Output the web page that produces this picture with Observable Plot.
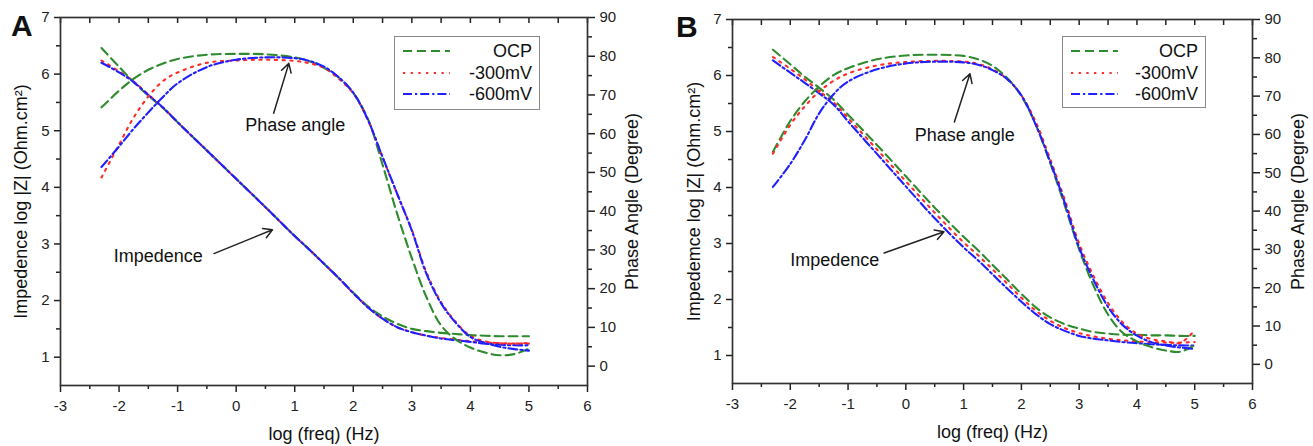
<!DOCTYPE html>
<html><head><meta charset="utf-8">
<script src="https://cdn.jsdelivr.net/npm/d3@7"></script>
<script src="https://cdn.jsdelivr.net/npm/@observablehq/plot@0.6"></script>
<style>
body{margin:0;background:#fff;font-family:"Liberation Sans",Arial,sans-serif;}
#wrap{position:relative;width:1313px;height:446px;overflow:hidden;background:#fff;}
.panel{position:absolute;top:0;}
.letter{position:absolute;font-weight:bold;font-size:30px;line-height:30px;color:#111;}
.legend{position:absolute;border:1px solid #8a8a8a;background:#fff;box-sizing:border-box;}
</style></head><body><div id="wrap"></div>
<script>
// ---- data ----
const logFreq = [-2.3,-2.0,-1.75,-1.5,-1.25,-1.0,-0.5,0,0.5,1.0,1.25,1.5,1.75,2.0,2.25,2.5,2.75,3.0,3.25,3.5,3.75,4.0,4.25,4.5,4.75,5.0];
const seriesNames = ["OCP","-300mV","-600mV"];
const seriesColors = ["#2e8b2e","#ff2a2a","#1f1fff"];
const seriesDash = ["9,5","2.2,5.5","9,3,2.2,3"];

const impA_OCP = [6.46,6.13,5.86,5.62,5.40,5.15,4.65,4.15,3.65,3.14,2.90,2.65,2.40,2.14,1.90,1.72,1.59,1.50,1.46,1.43,1.41,1.39,1.38,1.37,1.37,1.37];
const impA_300 = [6.24,6.05,5.87,5.64,5.41,5.15,4.65,4.15,3.65,3.14,2.90,2.65,2.40,2.13,1.88,1.68,1.53,1.44,1.38,1.34,1.31,1.28,1.26,1.25,1.24,1.24];
const impA_600 = [6.20,6.03,5.86,5.63,5.41,5.15,4.65,4.15,3.65,3.14,2.90,2.65,2.40,2.13,1.88,1.68,1.53,1.44,1.38,1.33,1.30,1.27,1.24,1.22,1.21,1.21];
const phaseA_OCP = [66.8,71.1,74.2,76.5,78.1,79.3,80.4,80.6,80.5,79.7,78.7,77.0,74.5,70.5,63.8,52.0,39.3,27.9,17.8,10.5,6.9,4.8,3.5,2.8,3.1,4.5];
const phaseA_300 = [48.7,57.2,64.2,69.6,73.6,75.8,78.3,78.9,79.1,78.8,78.2,77.0,74.2,70.4,63.5,53.9,44.4,35.2,24.2,16.5,11.4,7.8,6.4,5.9,5.8,6.0];
const phaseA_600 = [51.4,56.7,61.3,65.5,69.5,73.0,77.2,79.1,79.7,79.5,78.8,77.3,74.6,70.6,63.6,54.0,44.5,35.0,23.8,16.2,11.2,7.5,6.0,5.0,4.4,4.0];

const impB_OCP = [6.46,6.20,5.98,5.78,5.57,5.30,4.76,4.20,3.64,3.12,2.88,2.62,2.36,2.10,1.86,1.68,1.56,1.48,1.42,1.39,1.37,1.37,1.36,1.36,1.35,1.35];
const impB_300 = [6.33,6.12,5.93,5.72,5.52,5.24,4.68,4.11,3.55,3.02,2.79,2.54,2.29,2.03,1.80,1.62,1.49,1.40,1.34,1.30,1.27,1.25,1.24,1.23,1.23,1.24];
const impB_600 = [6.27,6.05,5.87,5.68,5.48,5.18,4.60,4.02,3.45,2.93,2.70,2.45,2.20,1.96,1.74,1.56,1.44,1.35,1.30,1.27,1.24,1.22,1.20,1.19,1.18,1.18];
const phaseB_OCP = [55.5,63.5,68.6,72.5,75.5,77.3,79.6,80.6,80.8,80.5,79.6,77.9,74.8,70.0,62.5,52.5,41.5,30.0,20.5,13.0,8.3,6.0,4.5,3.6,3.3,5.0];
const phaseB_300 = [55.0,62.5,67.3,71.2,74.0,75.9,78.0,78.9,79.2,79.0,78.4,77.0,74.5,70.2,63.2,53.5,43.0,31.5,23.0,16.0,11.0,8.0,6.6,6.0,5.6,8.9];
const phaseB_600 = [46.3,52.3,58.5,65.5,70.5,73.8,77.0,78.5,79.0,78.8,78.2,76.8,74.5,70.2,62.5,52.8,42.2,30.5,22.0,15.0,10.3,7.5,5.8,4.9,4.4,4.0];

const xTicks = [-3,-2,-1,0,1,2,3,4,5,6];
const xMinorTicks = [-2.5,-1.5,-0.5,0.5,1.5,2.5,3.5,4.5,5.5];
const impTicks = [1,2,3,4,5,6,7];
const impMinorTicks = [1.5,2.5,3.5,4.5,5.5,6.5];
const phaseTicks = [0,10,20,30,40,50,60,70,80,90];
const phaseMinorTicks = [5,15,25,35,45,55,65,75,85];
const xDomain = [-3,6];
const impDomain = [0.5,7];
const phaseDomain = [-5,90];

const annotLabels = ["Phase angle","Impedence"];
const annotXA = [1.01,-1.33], annotYA = [5.10,2.79];
const annotXB = [1.02,-1.23], annotYB = [4.93,2.71];
const arrowX1A = [0.64,-0.38], arrowY1A = [5.31,2.83], arrowX2A = [0.90,0.62], arrowY2A = [6.19,3.25];
const arrowX1B = [0.84,-0.375], arrowY1B = [5.17,2.83], arrowX2B = [1.11,0.66], arrowY2B = [6.03,3.21];

const xLabel = "log (freq) (Hz)";
const yLabelA = "Impedence log |Z| (Ohm.cm²)";
const yLabelB = "Impedemce log |Z| (Ohm.cm²)";
const y2Label = "Phase Angle (Degree)";

// ---- helpers ----
const k = (impDomain[1]-impDomain[0])/(phaseDomain[1]-phaseDomain[0]);
const phaseToY = p => impDomain[0] + (p - phaseDomain[0]) * k;
const yToPhase = y => phaseDomain[0] + (y - impDomain[0]) / k;
const FONT = "Liberation Sans, Arial, sans-serif";
const noText = () => "";
const LW = 2.1;

function panel(cfg) {
  const marks = [];
  cfg.imp.forEach((vals, i) => {
    const rows = logFreq.map((x, j) => ({x, y: vals[j]}));
    marks.push(Plot.line(rows, {x: "x", y: "y", stroke: seriesColors[i], strokeWidth: LW, strokeDasharray: seriesDash[i], curve: "catmull-rom"}));
  });
  cfg.phase.forEach((vals, i) => {
    const rows = logFreq.map((x, j) => ({x, y: phaseToY(vals[j])}));
    marks.push(Plot.line(rows, {x: "x", y: "y", stroke: seriesColors[i], strokeWidth: LW, strokeDasharray: seriesDash[i], curve: "catmull-rom"}));
  });
  const ann = annotLabels.map((t, i) => ({t, x: cfg.ax[i], y: cfg.ay[i]}));
  const arr = cfg.x1.map((v, i) => ({x1: v, y1: cfg.y1[i], x2: cfg.x2[i], y2: cfg.y2[i]}));
  return Plot.plot({
    width: cfg.width, height: 446,
    marginLeft: cfg.ml, marginRight: cfg.mr, marginTop: cfg.mt, marginBottom: cfg.mb,
    x: {domain: xDomain},
    y: {domain: impDomain},
    style: {fontFamily: FONT, fontSize: "15px", color: "#222", background: "transparent", overflow: "visible"},
    marks: [
      Plot.axisX(xTicks, {anchor: "bottom", tickSize: 7, tickPadding: 8, tickFormat: d => String(d), label: null, strokeWidth: 1.5, fontSize: 15}),
      Plot.axisX(xMinorTicks, {anchor: "bottom", tickSize: 4, tickFormat: noText, label: null, strokeWidth: 1.5}),
      Plot.axisX(xTicks.concat(xMinorTicks), {anchor: "top", tickSize: -5, tickFormat: noText, label: null, strokeWidth: 1.5}),
      Plot.axisY(impTicks, {anchor: "left", tickSize: 6, tickPadding: 5, tickFormat: d => String(d), label: null, strokeWidth: 1.5, fontSize: 15}),
      Plot.axisY(impMinorTicks, {anchor: "left", tickSize: 4, tickFormat: noText, label: null, strokeWidth: 1.5}),
      Plot.axisY(phaseTicks.map(phaseToY), {anchor: "right", tickSize: 7, tickPadding: 5, tickFormat: y => String(Math.round(yToPhase(y))), label: null, strokeWidth: 1.5, fontSize: 15}),
      Plot.axisY(phaseMinorTicks.map(phaseToY), {anchor: "right", tickSize: 4, tickFormat: noText, label: null, strokeWidth: 1.5}),
      Plot.frame({stroke: "#333", strokeWidth: 1.7}),
      ...marks,
      Plot.text(ann, {x: "x", y: "y", text: "t", fontSize: 18, fill: "#111"}),
      Plot.arrow(arr, {x1: "x1", y1: "y1", x2: "x2", y2: "y2", stroke: "#222", strokeWidth: 1.5, headLength: 10}),
      Plot.text([xLabel], {frameAnchor: "bottom", dy: 42, lineAnchor: "top", textAnchor: "middle", fontSize: 18, fill: "#111"}),
      Plot.text([cfg.yLabel], {frameAnchor: "left", dx: cfg.ylOff, rotate: -90, textAnchor: "middle", lineAnchor: "middle", fontSize: 18, fill: "#111"}),
      Plot.text([y2Label], {frameAnchor: "right", dx: cfg.y2Off, rotate: -90, textAnchor: "middle", lineAnchor: "middle", fontSize: 18, fill: "#111"})
    ]
  });
}

function legend(left, top, w, h) {
  const d = document.createElement("div");
  d.className = "legend";
  Object.assign(d.style, {left: left + "px", top: top + "px", width: w + "px", height: h + "px"});
  const rowsY = [15, 37, 58];
  let s = `<svg width="${w}" height="${h}" style="position:absolute;left:-1px;top:-1px">`;
  seriesNames.forEach((n, i) => {
    s += `<line x1="9" x2="56" y1="${rowsY[i]}" y2="${rowsY[i]}" stroke="${seriesColors[i]}" stroke-width="${LW}" stroke-dasharray="${seriesDash[i]}"/>`;
    s += `<text x="${w - 8}" y="${rowsY[i] + 6}" text-anchor="end" font-family="${FONT}" font-size="18" fill="#111">${n}</text>`;
  });
  s += "</svg>";
  d.innerHTML = s;
  return d;
}

const wrap = document.getElementById("wrap");
const pA = panel({width: 656, ml: 60, mr: 69, mt: 17, mb: 61, imp: [impA_OCP, impA_300, impA_600], phase: [phaseA_OCP, phaseA_300, phaseA_600],
  ax: annotXA, ay: annotYA, x1: arrowX1A, y1: arrowY1A, x2: arrowX2A, y2: arrowY2A, yLabel: yLabelA, ylOff: -39, y2Off: 45});
const pB = panel({width: 657, ml: 76, mr: 61, mt: 19, mb: 63, imp: [impB_OCP, impB_300, impB_600], phase: [phaseB_OCP, phaseB_300, phaseB_600],
  ax: annotXB, ay: annotYB, x1: arrowX1B, y1: arrowY1B, x2: arrowX2B, y2: arrowY2B, yLabel: yLabelB, ylOff: -38, y2Off: 46});
const dA = document.createElement("div"); dA.className = "panel"; dA.style.left = "0px"; dA.appendChild(pA);
const dB = document.createElement("div"); dB.className = "panel"; dB.style.left = "656px"; dB.appendChild(pB);
wrap.appendChild(dA); wrap.appendChild(dB);
wrap.appendChild(legend(394, 36, 146, 74));
wrap.appendChild(legend(1062, 36, 144, 72));
const lA = document.createElement("div"); lA.className = "letter"; lA.textContent = "A"; lA.style.left = "11px"; lA.style.top = "11px";
const lB = document.createElement("div"); lB.className = "letter"; lB.textContent = "B"; lB.style.left = "676px"; lB.style.top = "12px";
wrap.appendChild(lA); wrap.appendChild(lB);
</script></body></html>
